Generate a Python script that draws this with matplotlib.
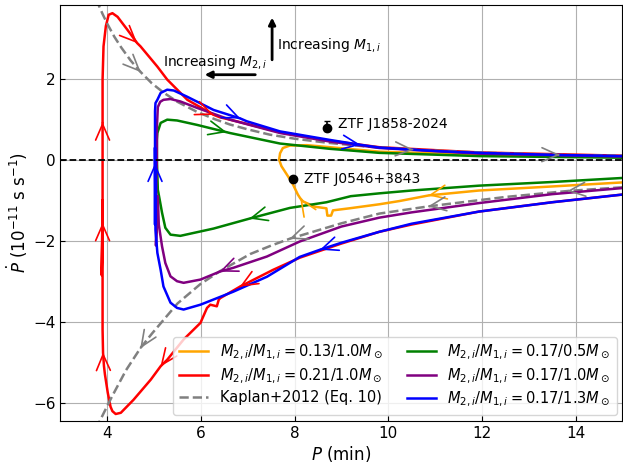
import numpy as np
import matplotlib.pyplot as plt

# tracks, in path order (lower branch right->left, up at P_min, upper branch left->right)
orange_p = [15.0, 13.5, 11.94, 10.87, 10.24, 9.81, 9.17, 8.82, 8.78, 8.7, 8.68, 8.43, 8.18, 8.12, 8.07, 7.97, 7.86, 7.72, 7.67, 7.69, 7.75, 7.9, 8.26, 8.75, 9.81, 11.94, 15.0]
orange_pd = [-0.56, -0.66, -0.76, -0.88, -1.02, -1.1, -1.2, -1.25, -1.38, -1.38, -1.2, -1.16, -1.03, -0.95, -0.86, -0.62, -0.41, -0.16, 0.0, 0.16, 0.29, 0.35, 0.36, 0.31, 0.2, 0.12, 0.07]

red_p = [15.0, 13.5, 11.94, 10.5, 9.81, 9.0, 8.11, 7.54, 6.84, 6.41, 6.38, 6.34, 6.2, 6.13, 6.02, 5.99, 5.63, 5.28, 5.14, 4.93, 4.56, 4.29, 4.18, 4.11, 4.07, 4.01, 3.95, 3.93, 3.91, 3.90, 3.90, 3.90, 3.88, 3.90, 3.90, 3.90, 3.90, 3.90, 3.92, 3.97, 4.03, 4.11, 4.22, 4.43, 4.64, 4.71, 5.07, 5.28, 5.71, 6.27, 6.4, 6.62, 7.69, 8.75, 9.81, 11.94, 15.0]
red_pd = [-0.86, -1.05, -1.28, -1.6, -1.78, -2.07, -2.42, -2.72, -3.13, -3.42, -3.46, -3.62, -3.58, -3.66, -3.95, -4.03, -4.44, -4.94, -5.1, -5.43, -5.93, -6.25, -6.28, -6.21, -6.1, -5.75, -5.3, -5.1, -4.77, -4.2, -2.8, -1.0, -2.85, -1.56, -1.2, 0.5, 0.91, 1.98, 2.8, 3.3, 3.58, 3.62, 3.53, 3.21, 2.88, 2.8, 2.3, 1.98, 1.48, 1.11, 1.05, 0.99, 0.68, 0.47, 0.31, 0.18, 0.1]

green_p = [15.0, 13.5, 11.94, 10.5, 9.81, 9.2, 8.68, 7.9, 7.05, 6.27, 5.56, 5.35, 5.24, 5.17, 5.12, 5.08, 5.06, 5.06, 5.07, 5.14, 5.28, 5.49, 5.92, 6.55, 6.62, 7.69, 8.75, 9.81, 11.94, 15.0]
green_pd = [-0.45, -0.55, -0.64, -0.76, -0.83, -0.9, -1.05, -1.19, -1.45, -1.7, -1.88, -1.85, -1.68, -1.31, -0.99, -0.74, 0.0, 0.5, 0.66, 0.91, 0.99, 0.97, 0.86, 0.68, 0.66, 0.40, 0.27, 0.17, 0.09, 0.05]

purple_p = [15.0, 13.5, 11.94, 10.5, 9.81, 9.0, 8.11, 7.41, 6.69, 6.41, 5.99, 5.63, 5.49, 5.35, 5.24, 5.17, 5.1, 5.08, 5.04, 5.05, 5.06, 5.06, 5.08, 5.13, 5.2, 5.35, 5.56, 5.92, 6.62, 7.69, 8.75, 9.81, 11.94, 15.0]
purple_pd = [-0.7, -0.85, -1.07, -1.3, -1.43, -1.65, -2.02, -2.39, -2.67, -2.76, -2.96, -3.04, -3.0, -2.88, -2.55, -2.14, -1.6, -0.9, -2.12, -0.3, 0.0, 0.8, 1.3, 1.43, 1.48, 1.5, 1.44, 1.28, 0.99, 0.66, 0.45, 0.29, 0.15, 0.08]

blue_p = [15.0, 13.5, 11.94, 10.5, 9.81, 9.0, 8.55, 8.11, 7.41, 6.69, 5.99, 5.63, 5.49, 5.35, 5.2, 5.14, 5.07, 5.03, 5.02, 5.02, 5.02, 5.02, 5.02, 5.03, 5.07, 5.14, 5.28, 5.42, 5.7, 6.27, 6.84, 6.98, 7.69, 8.75, 9.4, 9.81, 11.09, 11.94, 13.5, 15.0]
blue_pd = [-0.86, -1.05, -1.28, -1.58, -1.78, -2.05, -2.22, -2.4, -2.89, -3.26, -3.58, -3.7, -3.66, -3.53, -3.13, -2.72, -2.3, -1.73, 0.3, -1.6, -0.1, 0.5, 1.2, 1.4, 1.48, 1.65, 1.73, 1.71, 1.56, 1.23, 1.02, 0.95, 0.70, 0.49, 0.37, 0.3, 0.21, 0.17, 0.12, 0.09]

# Kaplan+2012 Eq. 10
kap_pos_p = [3.72, 3.79, 3.9, 4.0, 4.15, 4.3, 4.5, 4.71, 4.95, 5.2, 5.5, 5.92, 6.3, 6.62, 7.0, 7.47, 8.0, 8.7, 9.5, 10.52, 11.5, 12.5, 13.64, 15.0]
kap_pos_pd = [4.09, 3.89, 3.6, 3.36, 3.04, 2.77, 2.45, 2.17, 1.89, 1.66, 1.43, 1.18, 1.0, 0.87, 0.75, 0.62, 0.52, 0.42, 0.33, 0.25, 0.2, 0.16, 0.12, 0.1]
kap_neg_p = [15.0, 13.85, 12.5, 10.87, 9.81, 9.0, 7.9, 7.5, 7.05, 6.41, 5.99, 5.5, 5.28, 4.95, 4.71, 4.4, 4.1, 3.82, 3.75]
kap_neg_pd = [-0.68, -0.77, -0.92, -1.15, -1.33, -1.57, -1.95, -2.12, -2.33, -2.75, -3.07, -3.55, -3.85, -4.3, -4.65, -5.2, -5.85, -6.5, -6.7]

# where arrows sit (point index, pointing to the next point)
orange_arr = [3, 13]
red_arr = [8, 18, 28, 33, 36, 44, 49]
green_arr = [8, 23]
purple_arr = [9]
blue_arr = [6, 20, 30, 34]
kap_pos_arr = [7, 19, 22]
kap_neg_arr = [1, 3, 6, 14]

# observed sources
src_names = ["ZTF J1858-2024", "ZTF J0546+3843"]
src_p = [8.69, 7.96]
src_pd = [0.78, -0.47]
src_err_lo = [0.08, 0.0]
src_err_hi = [0.17, 0.0]

labels = [r"$M_{2,i}/M_{1,i}=0.13/1.0M_\odot$",
          r"$M_{2,i}/M_{1,i}=0.21/1.0M_\odot$",
          "Kaplan+2012 (Eq. 10)",
          r"$M_{2,i}/M_{1,i}=0.17/0.5M_\odot$",
          r"$M_{2,i}/M_{1,i}=0.17/1.0M_\odot$",
          r"$M_{2,i}/M_{1,i}=0.17/1.3M_\odot$"]


def arrows(ax, xs, ys, idx, c, lw=1.2):
    for i in idx:
        x0, y0 = xs[i], ys[i]
        x1 = x0 + 0.02 * (xs[i + 1] - x0)
        y1 = y0 + 0.02 * (ys[i + 1] - y0)
        ax.annotate("", xy=(x1, y1), xytext=(x0, y0),
                    arrowprops=dict(arrowstyle="->,head_length=1.15,head_width=0.5",
                                    color=c, lw=lw, mutation_scale=10,
                                    shrinkA=0, shrinkB=0))


fig, ax = plt.subplots(figsize=(6.23, 4.62), dpi=100)
fig.subplots_adjust(left=0.097, right=0.999, top=0.989, bottom=0.089)

ax.plot(orange_p, orange_pd, color="orange", lw=1.8, label=labels[0])
ax.plot(red_p, red_pd, color="red", lw=1.8, label=labels[1])
ax.plot(kap_pos_p, kap_pos_pd, color="gray", lw=1.8, ls="--", label=labels[2])
ax.plot(kap_neg_p, kap_neg_pd, color="gray", lw=1.8, ls="--")
ax.plot(green_p, green_pd, color="green", lw=1.8, label=labels[3])
ax.plot(purple_p, purple_pd, color="purple", lw=1.8, label=labels[4])
ax.plot(blue_p, blue_pd, color="blue", lw=1.8, label=labels[5])

arrows(ax, orange_p, orange_pd, orange_arr, "orange")
arrows(ax, red_p, red_pd, red_arr, "red")
arrows(ax, kap_pos_p, kap_pos_pd, kap_pos_arr, "gray")
arrows(ax, kap_neg_p, kap_neg_pd, kap_neg_arr, "gray")
arrows(ax, green_p, green_pd, green_arr, "green")
arrows(ax, purple_p, purple_pd, purple_arr, "purple")
arrows(ax, blue_p, blue_pd, blue_arr, "blue")

ax.axhline(0, color="black", ls="--", lw=1.3)

ax.errorbar(src_p, src_pd, yerr=[src_err_lo, src_err_hi], fmt="o", color="black",
            ms=6, capsize=2, elinewidth=1.2, zorder=5)
ax.text(8.93, 0.88, src_names[0], fontsize=10, va="center")
ax.text(8.2, -0.47, src_names[1], fontsize=10, va="center")

ax.annotate("", xy=(7.52, 3.58), xytext=(7.52, 2.4),
            arrowprops=dict(arrowstyle="-|>", color="black", lw=2, mutation_scale=10))
ax.text(7.62, 2.84, r"Increasing $M_{1,i}$", fontsize=10, va="center")
ax.annotate("", xy=(6.02, 2.1), xytext=(7.22, 2.1),
            arrowprops=dict(arrowstyle="-|>", color="black", lw=2, mutation_scale=10))
ax.text(5.18, 2.42, r"Increasing $M_{2,i}$", fontsize=10, va="center")

ax.set_xlim(3, 15)
ax.set_ylim(-6.45, 3.82)
ax.set_xticks([4, 6, 8, 10, 12, 14])
ax.set_yticks([-6, -4, -2, 0, 2])
ax.tick_params(direction="in", labelsize=11)
ax.grid(True, color="#b0b0b0", lw=0.8)
ax.set_xlabel(r"$P$ (min)", fontsize=12, labelpad=2)
ax.set_ylabel(r"$\dot{P}$ ($10^{-11}$ s s$^{-1}$)", fontsize=12, labelpad=2)

ax.legend(loc="lower right", ncol=2, fontsize=10.5, borderaxespad=0.4,
          labelspacing=0.3, columnspacing=1.6)

fig.savefig("out.png", dpi=100)
